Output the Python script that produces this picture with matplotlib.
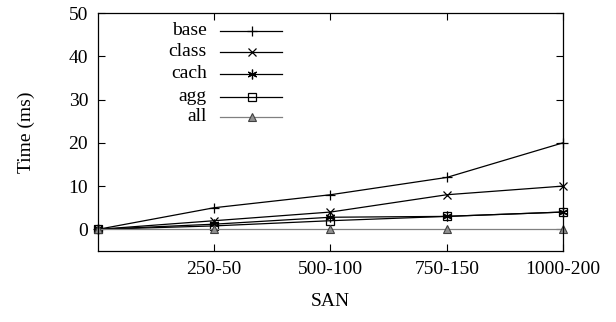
import matplotlib
matplotlib.use('Agg')
import matplotlib.pyplot as plt

plt.rcParams['font.family'] = ['Liberation Serif', 'DejaVu Serif']
plt.rcParams['font.size'] = 14

# x positions are the SAN configurations, 0 is the unlabeled origin
sanLabels = ['', '250-50', '500-100', '750-150', '1000-200']
sanPos = [0, 1, 2, 3, 4]

base = [0, 5, 8, 12, 20]
cls = [0, 2, 4, 8, 10]
cach = [0, 1.2, 2.8, 3, 4]
agg = [0, 0.8, 2, 3, 4]
allOpt = [0, 0, 0, 0, 0]

names = ['base', 'class', 'cach', 'agg', 'all']

def makeStyles():
    # gnuplot-ish point types
    return [dict(color='black', marker='+', ms=7, mfc='none', mew=0.9),
            dict(color='black', marker='x', ms=6, mfc='none', mew=0.9),
            dict(color='black', marker=(6, 2, 0), ms=7, mfc='none', mew=0.9),
            dict(color='black', marker='s', ms=6, mfc='none', mew=0.9),
            dict(color='#808080', marker='^', ms=6, mfc='#909090', mec='#404040', mew=0.8)]

def drawChart():
    fig = plt.figure(figsize=(6.16, 3.22), dpi=100)
    ax = fig.add_axes([0.159, 0.2205, 0.755, 0.7391])
    series = [base, cls, cach, agg, allOpt]
    styles = makeStyles()
    for vals, st in zip(series, styles):
        ax.plot(sanPos, vals, lw=0.9, clip_on=False, **st)

    ax.set_xlim(0, 4)
    ax.set_ylim(-5, 50)
    ax.set_xticks(sanPos[1:])
    ax.set_xticklabels(sanLabels[1:])
    ax.set_yticks([0, 10, 20, 30, 40, 50])
    ax.tick_params(direction='in', top=True, right=True, length=5, width=0.8, pad=7)
    for sp in ax.spines.values():
        sp.set_linewidth(0.9)
    ax.set_xlabel('SAN', labelpad=11)
    ax.set_ylabel('Time (ms)', labelpad=24)

    # key drawn by hand: label right-aligned, sample to the right
    rowY = [0.926, 0.837, 0.744, 0.648, 0.564]
    for nm, y, st in zip(names, rowY, styles):
        ax.text(0.234, y, nm, transform=ax.transAxes, ha='right', va='center')
        ax.plot([0.262, 0.396], [y, y], transform=ax.transAxes, lw=0.9,
                color=st['color'])
        ax.plot([0.331], [y], transform=ax.transAxes, lw=0, **st)

    fig.savefig('out.png', dpi=100)

drawChart()
